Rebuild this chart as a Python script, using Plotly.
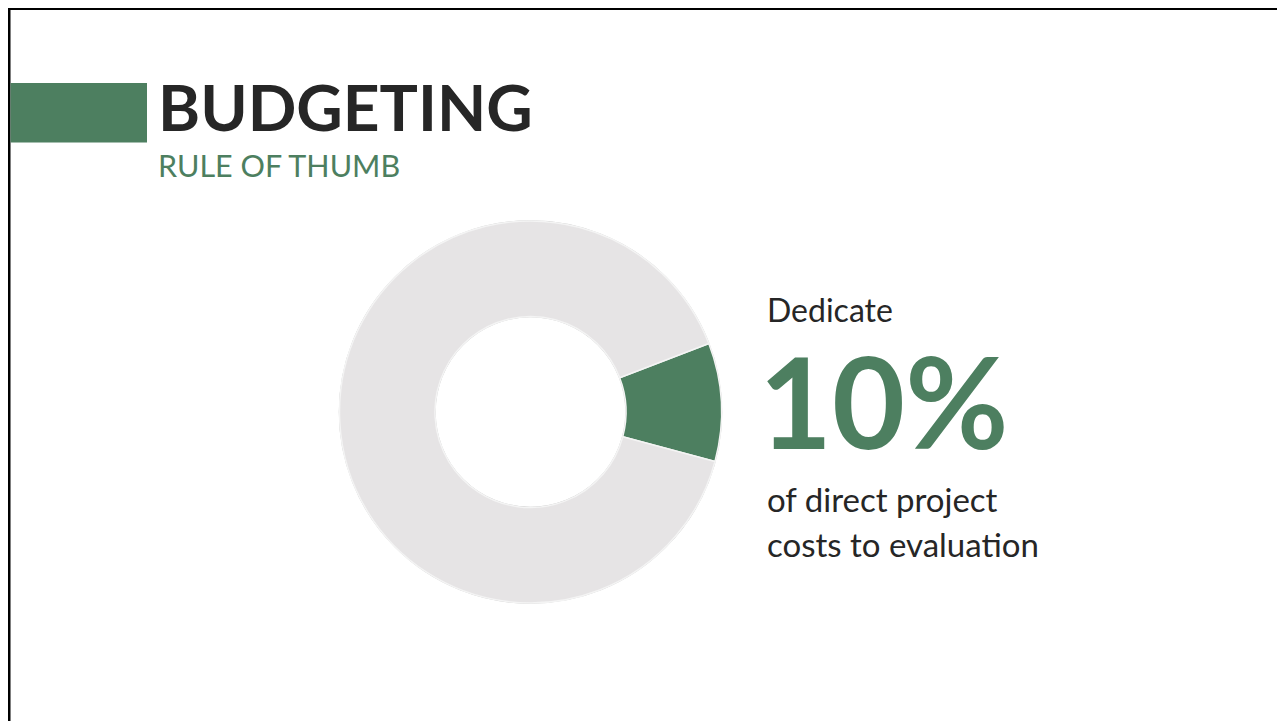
import plotly.graph_objects as go

W, H = 1285, 721

# Data
labels = ["Evaluation", "Other direct project costs"]
values = [10, 90]
slice_colors = ["#4D7F60", "#E6E4E5"]

title_text = "BUDGETING"
subtitle_text = "RULE OF THUMB"
lead_text = "Dedicate"
big_text = "10%"
tail_lines = ["of direct project", "costs to evaluation"]

GREEN = "#4D7F60"
DARK = "#262626"
FONT = "Lato"

OFF = 8  # page body margin


def px(x):
    return (x - OFF) / W


def py(y):
    return 1 - (y - OFF) / H


cx, cy, r = 530.5, 412, 191
hole = 0.5

fig = go.Figure()
fig.add_trace(go.Pie(
    labels=labels,
    values=values,
    hole=hole,
    sort=False,
    direction="clockwise",
    rotation=69,
    marker=dict(colors=slice_colors, line=dict(color="#F4F4F4", width=1.5)),
    textinfo="none",
    hoverinfo="label+percent",
    showlegend=False,
    domain=dict(x=[px(cx - r), px(cx + r)], y=[py(cy + r), py(cy - r)]),
))

shapes = [
    # faint outlines of the ring
    dict(type="circle", xref="paper", yref="paper", layer="below",
         x0=px(cx - r), x1=px(cx + r), y0=py(cy + r), y1=py(cy - r),
         line=dict(color="#C8C8C8", width=1.5)),
    dict(type="circle", xref="paper", yref="paper", layer="below",
         x0=px(cx - r * hole), x1=px(cx + r * hole), y0=py(cy + r * hole), y1=py(cy - r * hole),
         line=dict(color="#C8C8C8", width=1.5)),
    # slide border (top and left)
    dict(type="line", xref="paper", yref="paper", x0=px(8), x1=1.01, y0=py(8.5), y1=py(8.5),
         line=dict(color="black", width=3)),
    dict(type="line", xref="paper", yref="paper", x0=px(9), x1=px(9), y0=py(7), y1=-0.02,
         line=dict(color="black", width=3)),
    # green accent bar
    dict(type="rect", xref="paper", yref="paper", x0=px(10.5), x1=px(147), y0=py(142.5), y1=py(83),
         fillcolor=GREEN, line=dict(width=0)),
]

annotations = [
    dict(text=f"<b>{title_text}</b>", x=px(156), y=py(107), xanchor="left", yanchor="middle",
         font=dict(family=FONT, size=64, color=DARK)),
    dict(text=subtitle_text, x=px(156), y=py(165), xanchor="left", yanchor="middle",
         font=dict(family=FONT, size=30.5, color=GREEN)),
    dict(text=lead_text, x=px(765), y=py(309), xanchor="left", yanchor="middle",
         font=dict(family=FONT, size=32, color=DARK)),
    dict(text=f"<b>{big_text}</b>", x=px(757), y=py(400), xanchor="left", yanchor="middle",
         font=dict(family=FONT, size=126, color=GREEN)),
    dict(text=tail_lines[0], x=px(765), y=py(499), xanchor="left", yanchor="middle",
         font=dict(family=FONT, size=33, color=DARK)),
    dict(text=tail_lines[1], x=px(765), y=py(544), xanchor="left", yanchor="middle",
         font=dict(family=FONT, size=33, color=DARK)),
]
for a in annotations:
    a.update(xref="paper", yref="paper", showarrow=False)

fig.update_layout(
    width=W, height=H,
    margin=dict(l=0, r=0, t=0, b=0),
    paper_bgcolor="white",
    plot_bgcolor="white",
    shapes=shapes,
    annotations=annotations,
)

fig.write_html("out.html")
